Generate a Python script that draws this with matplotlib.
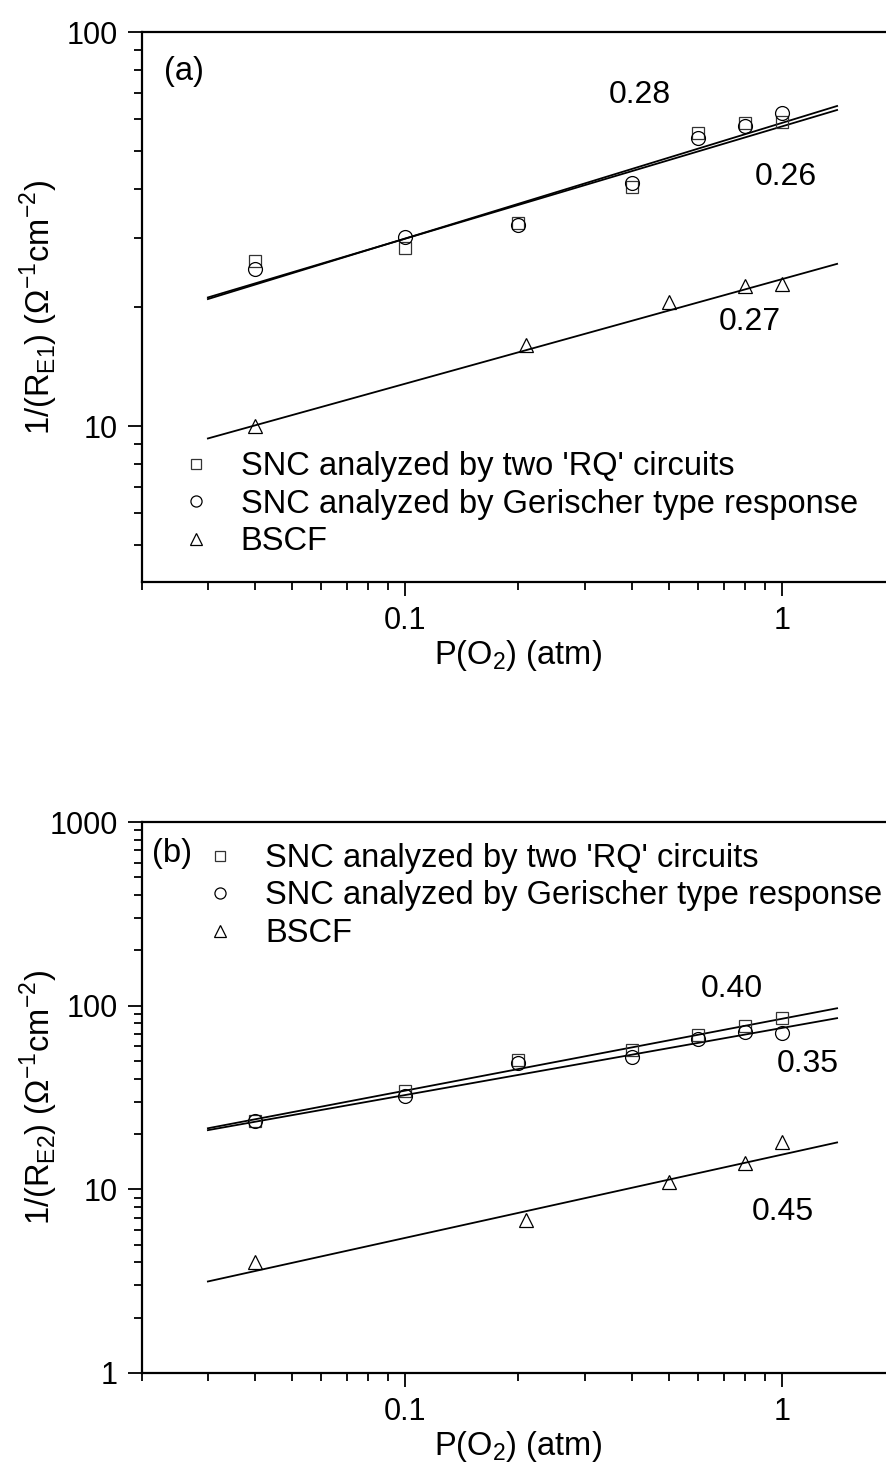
import numpy as np
import matplotlib
matplotlib.use("Agg")
import matplotlib.pyplot as plt
from matplotlib.ticker import LogLocator, NullFormatter, FixedLocator, FixedFormatter, FuncFormatter

plt.rcParams['font.family'] = ['Liberation Sans', 'DejaVu Sans']
plt.rcParams['mathtext.fontset'] = 'custom'
plt.rcParams['mathtext.rm'] = 'Liberation Sans'

# --- data -------------------------------------------------------------
p_snc = [0.04, 0.1, 0.2, 0.4, 0.6, 0.8, 1.0]
p_bscf = [0.04, 0.21, 0.5, 0.8, 1.0]
p_fit = [0.03, 1.4]

# panel (a) : 1/R_E1
a_rq = [26.2, 28.3, 32.8, 40.4, 55.5, 58.7, 59.1]
a_ger = [25.0, 30.2, 32.4, 41.4, 53.8, 57.6, 62.2]
a_bscf = [10.0, 16.1, 20.7, 22.7, 22.9]
a_fit_rq = [21.0, 64.9]
a_fit_ger = [21.2, 63.4]
a_fit_bscf = [9.3, 25.8]

# panel (b) : 1/R_E2
b_rq = [23.5, 34.2, 50.5, 57.2, 69.0, 77.3, 85.5]
b_ger = [23.5, 32.1, 48.7, 52.4, 65.7, 71.7, 70.9]
b_bscf = [4.0, 6.8, 10.9, 13.9, 18.0]
b_fit_rq = [21.5, 96.8]
b_fit_ger = [21.0, 85.5]
b_fit_bscf = [3.15, 18.0]

labels = ["SNC analyzed by two 'RQ' circuits",
          "SNC analyzed by Gerischer type response",
          "BSCF"]

FS = 22      # ticks
FL = 23.5    # labels, legend
FA = 23      # slope annotations

fig = plt.figure(figsize=(8.87, 14.67), dpi=100)
L = 141.5 / 887
W = (895.5 - 141.5) / 887
ax_a = fig.add_axes([L, 1 - 582 / 1467, W, 550 / 1467])
ax_b = fig.add_axes([L, 1 - 1373 / 1467, W, 551 / 1467])


def style(ax, ylim, ylab):
    ax.set_xscale('log')
    ax.set_yscale('log')
    ax.set_xlim(0.02, 2)
    ax.set_ylim(*ylim)
    for s in ['left', 'bottom', 'top', 'right']:
        ax.spines[s].set_linewidth(1.6)
    ax.xaxis.set_major_locator(FixedLocator([0.1, 1]))
    ax.xaxis.set_major_formatter(FixedFormatter(['0.1', '1']))
    ax.xaxis.set_minor_locator(LogLocator(base=10, subs=np.arange(2, 10)))
    ax.xaxis.set_minor_formatter(NullFormatter())
    ax.yaxis.set_major_locator(LogLocator(base=10))
    ax.yaxis.set_major_formatter(FuncFormatter(lambda v, p: '%g' % v))
    ax.yaxis.set_minor_locator(LogLocator(base=10, subs=np.arange(2, 10)))
    ax.yaxis.set_minor_formatter(NullFormatter())
    ax.tick_params(which='both', direction='out', top=False, right=False,
                   labelsize=FS, width=1.3)
    ax.tick_params(which='major', length=10, pad=7)
    ax.tick_params(which='minor', length=6)
    ax.set_xlabel(r'P(O$_\mathregular{2}$) (atm)', fontsize=FL, labelpad=2)
    ax.set_ylabel(ylab, fontsize=FL)
    ax.yaxis.set_label_coords(-0.108, 0.5)


def draw(ax, rq, ger, bscf, f_rq, f_ger, f_bscf):
    ax.plot(p_fit, f_rq, '-', color='black', lw=1.3)
    ax.plot(p_fit, f_ger, '-', color='black', lw=1.3)
    ax.plot(p_fit, f_bscf, '-', color='black', lw=1.3)
    h1, = ax.plot(p_snc, rq, 's', ms=9, mfc='none', mec='#333333', mew=0.9,
                  label=labels[0])
    h2, = ax.plot(p_snc, ger, 'o', ms=10, mfc='none', mec='black', mew=0.9,
                  label=labels[1])
    h3, = ax.plot(p_bscf, bscf, '^', ms=10, mfc='none', mec='black', mew=0.9,
                  label=labels[2])
    return [h1, h2, h3]


style(ax_a, (4.02, 100), r'1/(R$_\mathregular{E1}$) ($\Omega^\mathregular{-1}$cm$^\mathregular{-2}$)')
hs = draw(ax_a, a_rq, a_ger, a_bscf, a_fit_rq, a_fit_ger, a_fit_bscf)
ax_a.legend(handles=hs, loc='upper left', bbox_to_anchor=(0.05, 0.238),
            frameon=False, fontsize=FL, handlelength=1.0, handletextpad=0.88,
            labelspacing=0.2, borderpad=0, borderaxespad=0, markerscale=0.8)
ax_a.text(0.056, 0.929, '(a)', transform=ax_a.transAxes, fontsize=FL,
          ha='center', va='center')
ax_a.text(0.661, 0.885, '0.28', transform=ax_a.transAxes, fontsize=FA,
          ha='center', va='center')
ax_a.text(0.855, 0.736, '0.26', transform=ax_a.transAxes, fontsize=FA,
          ha='center', va='center')
ax_a.text(0.807, 0.473, '0.27', transform=ax_a.transAxes, fontsize=FA,
          ha='center', va='center')

style(ax_b, (1, 1000), r'1/(R$_\mathregular{E2}$) ($\Omega^\mathregular{-1}$cm$^\mathregular{-2}$)')
hs = draw(ax_b, b_rq, b_ger, b_bscf, b_fit_rq, b_fit_ger, b_fit_bscf)
ax_b.legend(handles=hs, loc='upper left', bbox_to_anchor=(0.082, 0.962),
            frameon=False, fontsize=FL, handlelength=1.0, handletextpad=0.9,
            labelspacing=0.2, borderpad=0, borderaxespad=0, markerscale=0.8)
ax_b.text(0.040, 0.943, '(b)', transform=ax_b.transAxes, fontsize=FL,
          ha='center', va='center')
ax_b.text(0.783, 0.697, '0.40', transform=ax_b.transAxes, fontsize=FA,
          ha='center', va='center')
ax_b.text(0.884, 0.561, '0.35', transform=ax_b.transAxes, fontsize=FA,
          ha='center', va='center')
ax_b.text(0.850, 0.292, '0.45', transform=ax_b.transAxes, fontsize=FA,
          ha='center', va='center')

fig.savefig('out.png', dpi=100)
